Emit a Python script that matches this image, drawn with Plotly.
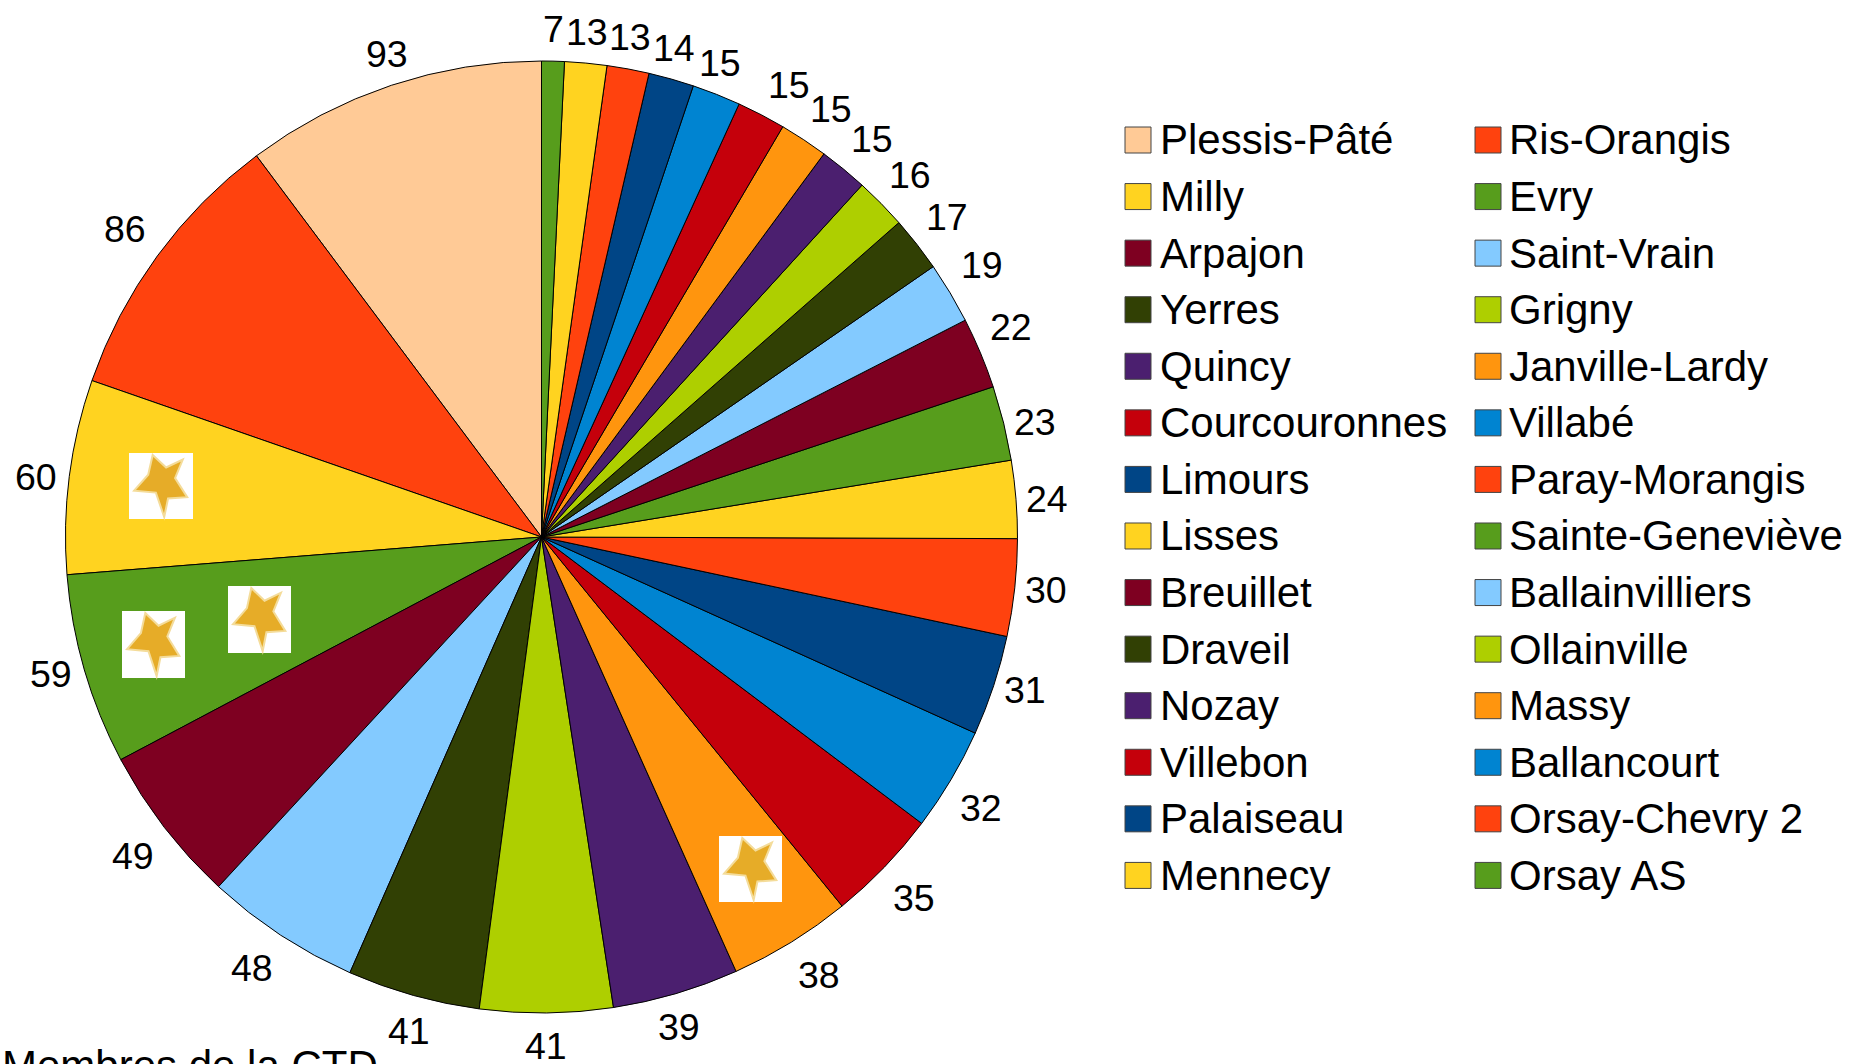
import math
import plotly.graph_objects as go

W, H = 1854, 1064

clubs = ["Plessis-Pâté", "Ris-Orangis", "Milly", "Evry", "Arpajon", "Saint-Vrain", "Yerres", "Grigny",
         "Quincy", "Janville-Lardy", "Courcouronnes", "Villabé", "Limours", "Paray-Morangis",
         "Lisses", "Sainte-Geneviève", "Breuillet", "Ballainvilliers", "Draveil", "Ollainville",
         "Nozay", "Massy", "Villebon", "Ballancourt", "Palaiseau", "Orsay-Chevry 2", "Mennecy", "Orsay AS"]
members = [93, 86, 60, 59, 49, 48, 41, 41, 39, 38, 35, 32, 31, 30, 24, 23, 22, 19, 17, 16, 15, 15, 15, 15, 14, 13, 13, 7]
colors = ["#FFCA96", "#FF420E", "#FFD320", "#579D1C", "#7E0021", "#83CAFF", "#314004", "#AECF00",
          "#4B1F6F", "#FF950E", "#C5000B", "#0084D1", "#004586", "#FF420E",
          "#FFD320", "#579D1C", "#7E0021", "#83CAFF", "#314004", "#AECF00",
          "#4B1F6F", "#FF950E", "#C5000B", "#0084D1", "#004586", "#FF420E", "#FFD320", "#579D1C"]
footer = "Membres de la CTD"

# small pixel shifts of the value labels away from the exact radial spot
label_nudge = [(6, -1), (-6, -8), (-1, 5), (-2, -5), (-6, 9), (-11, 6), (4, 4), (-1, 1), (-6, 2), (11, 5),
               (6, 8), (2, 12), (1, -6), (-1, -1), (-1, 2), (0, 7), (1, -13), (4, -11), (5, -7), (6, -6),
               (8, -5), (9, -4), (13, -1), (-8, -1), (-6, 0), (-4, 0), (-2, 1), (0, 0)]

# star pictures: pixel box of each one (x0, y0, x1, y1)
star_boxes = [(129, 453, 193, 519), (122, 611, 185, 678), (228, 586, 291, 653), (719, 836, 782, 902)]
star_outline = [(0.37, 0.03), (0.58, 0.22), (0.84, 0.10), (0.72, 0.38), (0.91, 0.67), (0.61, 0.69),
                (0.55, 0.97), (0.42, 0.60), (0.08, 0.57), (0.30, 0.33)]

PIE_CX, PIE_CY = 541.5, 537
LABEL_R = 508.4


def px(x):
    return x / W


def py(y):
    return 1 - y / H


fig = go.Figure()
fig.add_trace(go.Pie(
    labels=clubs,
    values=members,
    sort=False,
    direction="counterclockwise",
    # plotly starts a ccw pie with the first slice to the right of 12 o'clock
    rotation=-360 * members[0] / sum(members),
    textinfo="none",
    marker=dict(colors=colors, line=dict(color="black", width=1)),
    domain=dict(x=[px(65), px(1018)], y=[py(1013), py(61)]),
    showlegend=False,
))

shapes = []
annotations = []

# legend drawn by hand, the built-in pie swatch is too small
for i, name in enumerate(clubs):
    col = i % 2
    row = i // 2
    sx = 1125 + col * 350
    sy = 140 + row * 56.57
    shapes.append(dict(type="rect", xref="paper", yref="paper",
                       x0=px(sx), x1=px(sx + 26), y0=py(sy - 13), y1=py(sy + 13),
                       fillcolor=colors[i], line=dict(color="#444444", width=1)))
    annotations.append(dict(text=name, xref="paper", yref="paper", x=px(sx + 33 - col), y=py(sy),
                            xanchor="left", yanchor="middle", showarrow=False,
                            font=dict(family="Liberation Sans", size=42, color="black")))

# value labels around the pie, plotly's own outside text piles up on the thin slices
total = sum(members)
cum = 0
for v, (dx, dy) in zip(members, label_nudge):
    ang = math.radians((cum + v / 2) / total * 360)
    cum += v
    lx = PIE_CX - LABEL_R * math.sin(ang) + dx
    ly = PIE_CY - LABEL_R * math.cos(ang) + dy
    annotations.append(dict(text=str(v), xref="paper", yref="paper", x=px(lx), y=py(ly),
                            xanchor="center", yanchor="middle", showarrow=False,
                            font=dict(family="Liberation Sans", size=37.5, color="black")))

for x0, y0, x1, y1 in star_boxes:
    shapes.append(dict(type="rect", xref="paper", yref="paper", layer="above",
                       x0=px(x0), x1=px(x1), y0=py(y0), y1=py(y1),
                       fillcolor="white", line=dict(width=0)))
    pts = [(x0 + u * (x1 - x0), y0 + v * (y1 - y0)) for u, v in star_outline]
    path = "M" + " L".join(f"{px(a):.5f},{py(b):.5f}" for a, b in pts) + " Z"
    shapes.append(dict(type="path", xref="paper", yref="paper", layer="above", path=path,
                       fillcolor="#E6AC28", line=dict(color="#F4DC9A", width=2)))

annotations.append(dict(text=footer, xref="paper", yref="paper", x=0, y=py(1040),
                        xanchor="left", yanchor="top", showarrow=False,
                        font=dict(family="Liberation Sans", size=42, color="black")))

fig.update_layout(
    width=W, height=H,
    margin=dict(l=0, r=0, t=0, b=0),
    paper_bgcolor="white",
    shapes=shapes,
    annotations=annotations,
)

fig.write_html("out.html", config={"displayModeBar": False},
               post_script="document.body.style.margin='0';document.body.style.overflow='hidden';")
